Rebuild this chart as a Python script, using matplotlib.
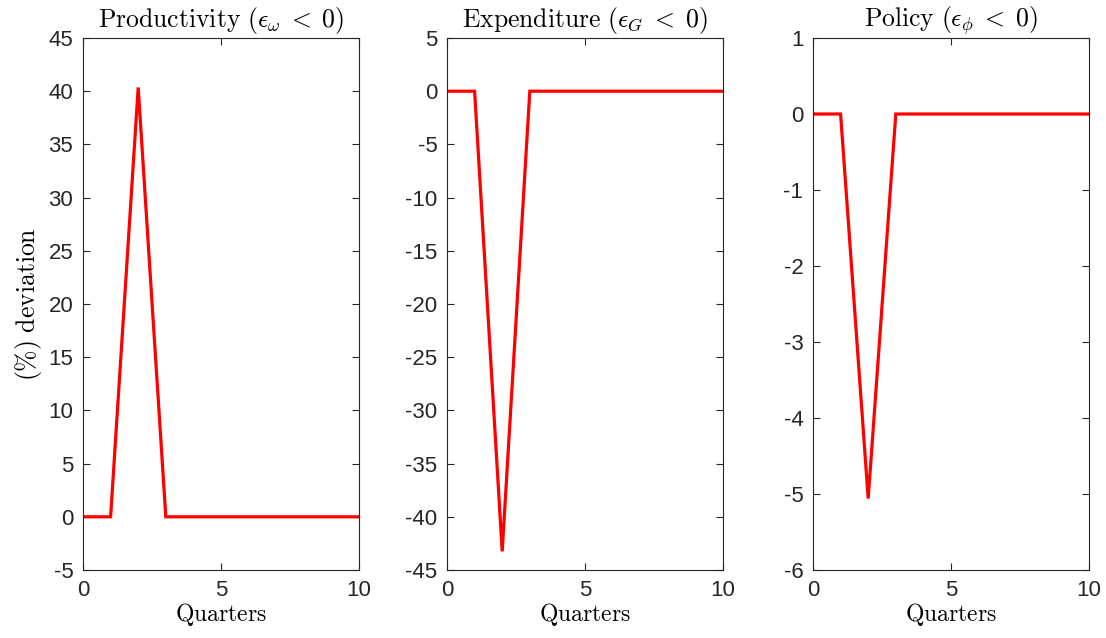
import numpy as np
import matplotlib
matplotlib.use("Agg")
import matplotlib.pyplot as plt

plt.rcParams['mathtext.fontset'] = 'cm'
plt.rcParams['font.family'] = ['Liberation Sans', 'DejaVu Sans']
plt.rcParams['axes.unicode_minus'] = False

quarters = list(range(0, 11))
productivity = [0, 0, 40.35, 0, 0, 0, 0, 0, 0, 0, 0]
expenditure = [0, 0, -43.25, 0, 0, 0, 0, 0, 0, 0, 0]
policy = [0, 0, -5.06, 0, 0, 0, 0, 0, 0, 0, 0]

titles = [r'$\mathrm{Productivity}\ (\epsilon_\omega\;<\;0)$',
          r'$\mathrm{Expenditure}\ (\epsilon_G\;<\;0)$',
          r'$\mathrm{Policy}\ (\epsilon_\phi\;<\;0)$']
series = [productivity, expenditure, policy]
ylims = [(-5, 45), (-45, 5), (-6, 1)]
yticks = [np.arange(-5, 46, 5), np.arange(-45, 6, 5), np.arange(-6, 2, 1)]
xticks = [0, 5, 10]

W, H = 1106, 638
fig = plt.figure(figsize=(W / 100, H / 100), dpi=100)
lefts = [83, 447, 813]
width = 276
top, bottom = 38, 570

for i in range(3):
    ax = fig.add_axes([lefts[i] / W, 1 - bottom / H, width / W, (bottom - top) / H])
    ax.plot(quarters, series[i], color='red', lw=2.3, solid_joinstyle='miter')
    ax.set_xlim(0, 10)
    ax.set_ylim(*ylims[i])
    ax.set_xticks(xticks)
    ax.set_yticks(yticks[i])
    ax.tick_params(direction='in', length=5, width=0.8, labelsize=16,
                   top=True, right=True, colors='#262626', labelcolor='#262626', pad=7)
    for s in ax.spines.values():
        s.set_linewidth(0.8)
        s.set_color('#262626')
    ax.set_title(titles[i], fontsize=18.5, pad=8)
    ax.set_xlabel(r'$\mathrm{Quarters}$', fontsize=17, labelpad=0)
    if i == 0:
        ax.set_ylabel(r'$\mathrm{(\%)\ deviation}$', fontsize=18.5, labelpad=3)

fig.savefig('out.png', dpi=100)
